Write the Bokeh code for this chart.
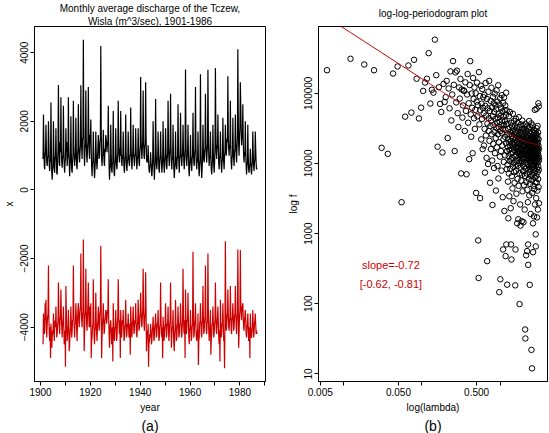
import numpy as np
from bokeh.plotting import figure
from bokeh.models import Range1d, FixedTicker, Title, Label
from bokeh.layouts import row
from bokeh.embed import file_html
from bokeh.resources import INLINE

# ---------------- data ----------------
START_YEAR = 1901
POINTS_PER_YEAR = 6          # bi-monthly readings of the monthly series
N_MONTHS = 1032              # length of the monthly record 1901-1986

# discharge (m^3/sec), six readings per year, 1901 ... 1986
discharge = [
    900, 2200, 1300, 700, 600, 1000,
    1100, 1900, 1200, 800, 700, 900,
    1000, 2000, 1400, 700, 550, 800,
    900, 2550, 1200, 500, 300, 600,
    700, 2000, 1100, 600, 500, 900,
    1000, 1800, 1000, 500, 450, 800,
    1200, 3060, 1500, 800, 700, 1400,
    1100, 2700, 1300, 800, 650, 900,
    1000, 2450, 1200, 700, 500, 800,
    900, 1800, 1100, 1400, 700, 900,      # 1910
    1000, 2700, 1300, 800, 400, 700,
    900, 2150, 1100, 600, 500, 800,
    1000, 2600, 1300, 1000, 700, 900,
    900, 2100, 1200, 700, 600, 1000,
    1200, 2500, 1400, 900, 800, 1100,
    1300, 3050, 1700, 1200, 900, 1500,
    1500, 4380, 2000, 1000, 700, 1200,
    1300, 2900, 1500, 1000, 800, 1200,
    1400, 3000, 1800, 1100, 900, 1600,
    1500, 2050, 1200, 700, 400, 800,      # 1920
    800, 1700, 1000, 600, 350, 600,
    900, 1700, 1100, 800, 600, 900,
    1200, 1600, 1300, 900, 1000, 1400,
    1500, 4195, 1800, 900, 700, 1000,
    1000, 1750, 1200, 800, 700, 1200,
    1100, 1600, 1500, 1300, 1100, 1400,
    1300, 2450, 1400, 700, 300, 600,
    700, 1900, 1100, 600, 500, 800,
    800, 2300, 1000, 500, 400, 700,
    900, 1800, 1000, 700, 600, 900,       # 1930
    1100, 2600, 1500, 1000, 800, 1200,
    1000, 2300, 1200, 800, 700, 1000,
    900, 1700, 1000, 600, 500, 800,
    1000, 2200, 1100, 700, 550, 850,
    900, 1700, 1000, 800, 700, 1000,
    1000, 2400, 1300, 800, 600, 900,
    1100, 1900, 1100, 900, 700, 1000,
    1000, 1800, 1200, 800, 600, 900,
    1000, 1800, 1100, 800, 700, 1100,
    1300, 3290, 1600, 1100, 900, 1200,    # 1940
    1400, 2900, 1500, 1000, 900, 1300,
    1300, 3140, 1600, 1000, 800, 1000,
    800, 1300, 900, 600, 500, 700,
    700, 1100, 800, 500, 400, 600,
    900, 2000, 1100, 700, 300, 600,
    800, 2650, 1300, 800, 600, 900,
    900, 1700, 1000, 600, 500, 800,
    1000, 1700, 1100, 800, 500, 700,
    900, 2000, 1100, 700, 500, 800,
    1000, 1800, 1200, 700, 600, 900,      # 1950
    1100, 2600, 1400, 900, 700, 1000,
    1200, 2800, 1300, 800, 600, 900,
    900, 1900, 1000, 600, 350, 600,
    800, 1700, 1000, 700, 600, 900,
    1000, 2500, 1200, 800, 500, 900,
    1000, 2250, 1300, 900, 700, 1000,
    1000, 1900, 1200, 800, 600, 900,
    1200, 3510, 1500, 900, 700, 1000,
    1000, 1900, 1100, 600, 400, 700,
    900, 1600, 1000, 700, 550, 900,       # 1960
    1000, 2250, 1200, 800, 700, 1000,
    1200, 3000, 1400, 800, 600, 900,
    800, 1700, 1000, 600, 400, 700,
    900, 3370, 1300, 700, 350, 600,
    900, 1900, 1200, 900, 800, 1100,
    1200, 2800, 1500, 1000, 800, 1100,
    1300, 3500, 1700, 1000, 700, 1000,
    900, 1700, 1000, 600, 450, 700,
    900, 1900, 1100, 700, 500, 800,
    1200, 3550, 1800, 1100, 900, 1300,    # 1970
    1200, 2200, 1300, 800, 600, 900,
    1000, 1700, 1100, 700, 500, 800,
    900, 2100, 1200, 800, 600, 1000,
    1100, 1900, 1300, 1000, 1200, 1500,
    1400, 3310, 1600, 1200, 1000, 1300,
    1200, 2600, 1300, 800, 600, 900,
    1000, 2100, 1200, 900, 700, 1100,
    1200, 2200, 1400, 1000, 800, 1200,
    1600, 4100, 2200, 1300, 1000, 1500,
    1800, 3140, 2500, 1800, 1300, 1600,   # 1980
    1500, 2500, 1400, 1000, 800, 1100,
    1000, 2000, 1100, 700, 450, 700,
    800, 1900, 1000, 600, 500, 700,
    700, 1200, 900, 550, 450, 700,
    800, 1700, 1100, 700, 550, 800,
    900, 1700, 1200, 800, 600, 650,
]

# second (red) series, same time base
shifted = [
    -4500, -3600, -3900, -4200, -4100, -3300,
    -3800, -3200, -4000, -4300, -3900, -3700,
    -3600, -2200, -3700, -4200, -4400, -4000,
    -4900, -3900, -4200, -4600, -4300, -4100,
    -4200, -3600, -4100, -4400, -4000, -3800,
    -4000, -3400, -3900, -4300, -4200, -3900,
    -3900, -2700, -3500, -4000, -4200, -3800,
    -3700, -2900, -3600, -4000, -4300, -3900,
    -3800, -3400, -4000, -4500, -4400, -4100,
    -5150, -2800, -3500, -4000, -4400, -4200,   # 1910
    -4100, -3500, -4000, -4700, -4500, -4200,
    -4000, -3400, -3900, -4300, -4100, -3800,
    -3800, -2200, -3600, -4000, -4300, -3900,
    -3900, -3300, -3700, -4100, -4400, -3800,
    -3500, -3300, -3700, -4000, -3800, -3500,
    -3400, -1850, -3400, -3800, -4000, -3600,
    -3600, -1444, -3300, -4700, -4200, -3700,
    -3500, -2300, -3500, -3900, -4100, -3700,
    -3300, -2700, -3500, -4000, -3900, -3400,
    -4000, -3300, -4900, -4400, -4300, -4000,   # 1920
    -3900, -2600, -3700, -4300, -4500, -4100,
    -4000, -3000, -3800, -4200, -4400, -4000,
    -3800, -3400, -3700, -4100, -3900, -3600,
    -3500, -1629, -3400, -4900, -4300, -3900,
    -3700, -3300, -3800, -4200, -4100, -3800,
    -3700, -3500, -3600, -3900, -3800, -3500,
    -3600, -2600, -3700, -4200, -4600, -4100,
    -3900, -3800, -4100, -4500, -4400, -4000,
    -5000, -3300, -3900, -4300, -4400, -4000,
    -4000, -3500, -4000, -4400, -4300, -3900,   # 1930
    -3700, -2600, -3500, -4000, -4200, -3800,
    -4900, -3500, -3900, -4300, -4100, -3800,
    -3900, -3500, -4000, -4400, -4300, -4000,
    -3900, -3200, -3900, -4300, -4200, -3900,
    -4000, -3600, -4000, -4300, -4200, -3900,
    -4800, -3400, -3800, -4200, -4300, -3900,
    -3800, -3400, -3900, -4200, -4100, -3800,
    -3900, -3300, -3800, -4200, -4300, -4000,
    -3800, -3200, -3700, -4100, -4000, -3700,
    -3600, -3000, -3500, -3900, -4000, -3700,   # 1940
    -3500, -2300, -3400, -3900, -4100, -3700,
    -3600, -2400, -3500, -4700, -4400, -4100,
    -4200, -3900, -5150, -4500, -4400, -4200,
    -4300, -3900, -4200, -4500, -4400, -4100,
    -4000, -3700, -4100, -4400, -4300, -4000,
    -3900, -3600, -4000, -4300, -4200, -3900,
    -3900, -3500, -4000, -4400, -4300, -4000,
    -3900, -2700, -3700, -4200, -4300, -4000,
    -4900, -3700, -4000, -4400, -4300, -4000,
    -3900, -3300, -3900, -4300, -4200, -3900,   # 1950
    -3900, -3400, -4000, -4400, -4200, -3900,
    -3800, -2700, -3700, -4600, -4300, -4000,
    -4000, -3500, -4100, -4500, -4700, -4200,
    -4000, -3200, -3900, -4400, -4300, -4000,
    -3900, -3400, -3900, -4300, -4200, -3900,
    -3900, -3300, -3800, -4200, -4300, -4000,
    -3800, -2300, -3600, -4100, -4200, -3800,
    -4900, -2900, -3700, -4200, -4100, -3800,
    -3800, -3000, -3800, -4300, -4500, -4100,
    -4000, -3500, -4000, -4400, -4300, -4000,   # 1960
    -3900, -1800, -3500, -4300, -4200, -3900,
    -3800, -3300, -3900, -4300, -4400, -4100,
    -4300, -3600, -5100, -4400, -4300, -3900,
    -3800, -3300, -3800, -4200, -4300, -3900,
    -3800, -2800, -3700, -4200, -4100, -3800,
    -3700, -2200, -3600, -4100, -4200, -3900,
    -3800, -1850, -3500, -4100, -4400, -4000,
    -4000, -3500, -4800, -4400, -4200, -3900,
    -3900, -3400, -3900, -4300, -4200, -3900,
    -3800, -2700, -3600, -4100, -4200, -3900,   # 1970
    -3700, -3400, -3900, -4300, -4500, -4100,
    -5000, -3200, -3900, -4300, -4200, -3900,
    -3900, -3300, -3900, -4400, -4300, -5200,
    -3900, -1493, -3500, -4100, -4000, -3700,
    -3600, -2900, -3600, -4000, -4100, -3800,
    -3700, -2800, -3600, -4100, -4200, -3800,
    -3700, -3300, -3700, -4100, -4000, -3700,
    -3600, -2800, -3500, -4000, -4200, -3800,
    -3600, -1737, -3400, -4600, -4200, -3700,
    -3500, -1750, -3200, -3600, -3800, -3400,   # 1980
    -3400, -3300, -3700, -4000, -4100, -3800,
    -3700, -3500, -3800, -4200, -4300, -4000,
    -3900, -3600, -4000, -4400, -4200, -4000,
    -4900, -3600, -4000, -4300, -4300, -4100,
    -4000, -3500, -3900, -4300, -4200, -3900,
    -3800, -3600, -3900, -4200, -4100, -4200,
]

# periodogram ordinates at the Fourier frequencies j = 1 ... 516
periodogram = [
    213000, 310000, 257000, 213000, 16700, 13700, 191000, 241000, 2800, 46400,
    249000, 53000, 300000, 161000, 43800, 62400, 108000, 142000, 161000, 373000,
    71300, 112000, 102000, 581000, 181000, 17300, 122000, 70500, 54100, 14300,
    136000, 75300,
    88000, 150000, 23000, 117000, 61000, 205000, 41000, 96000,
    287000, 132000, 15000, 198000, 74000, 210000, 52000, 33000,
    121000, 84000, 160000, 7200, 113000, 45000, 67000, 110000,
    108000, 29000, 143000, 56000, 7000, 96000, 188000, 38000,
    72000, 11500, 131000, 287000, 50000, 24000, 99000, 62000,
    14000, 165000, 83000, 44000, 121000, 31000, 58000, 100000,
    3800, 76000, 142000, 47000, 68000, 800, 233, 200000,
    36000, 91000, 3200, 57000, 128000, 22000, 71000, 43000,
    115000, 16000, 62000, 88000,
    52000, 18000, 95000, 31000, 7400, 66000, 140000, 25000, 48000, 12000,
    83000, 405, 37000, 61000, 9800, 105000, 29000, 44000, 150000, 21000,
    56000, 5300, 34000, 78000, 16000, 41000, 120000, 26000, 63000, 11000,
    2560, 47000, 89000, 19000, 35000, 72000, 8600, 54000, 28000, 99000,
    14000, 43000, 67000, 23000, 4100, 59000, 32000, 110000, 17000, 38000,
    76000, 9200, 45000, 26000, 130000, 6100, 51000, 33000, 20000, 146,
    69000, 39000, 12500, 85000, 223, 29000, 48000, 15000, 62000, 36000,
    7900, 94000, 27000, 41000, 18000, 55000, 3300, 31000, 594, 73000,
    22000, 46000, 10500, 87000, 35000, 2100, 58000, 24000, 40000, 13000,
    67000, 30000, 477, 49000, 19500, 102000, 700, 36000, 8300, 57000,
    15000, 187, 26000, 9600, 37000, 17000, 5500, 22000, 1650, 31000,
    12600, 7200, 47000, 20000, 3400, 15600, 26000, 10800, 54000, 18000,
    8400, 28000, 13800, 2300, 21000, 700, 38000, 11400, 427, 24600,
    16200, 6600, 33600, 12000, 19200, 4400, 28800, 14400, 51000, 9000,
    22800, 17400, 2900, 31200, 10200, 19800, 40200, 7500, 15600, 25800,
    5300, 18600, 34800, 12600, 21600, 183, 28200, 594, 9600, 17400,
    43200, 7800, 23400, 13200, 3700, 27000, 16200, 10800, 32400, 20400,
    1400, 14400, 24600, 6000, 37800, 16800, 9300, 22200, 12000, 1600,
    29400, 15000, 4800, 19200, 45600, 10200, 25200, 13800, 7200, 21000,
    99, 16800, 33000, 11400, 18000, 2600, 27600, 13200, 1300, 22800,
    15600, 8700, 36000, 12600, 19800, 5700, 26400, 10800, 16200, 1500,
    30600, 14400, 6900, 21600, 40800, 12000, 18000, 4000, 24000, 13800,
    9600, 28200, 16800, 7800, 21000, 1450, 34800, 11700, 15000, 25200,
    4900, 18600, 13200, 31200, 9000, 22200, 15600, 2200, 27000, 12000,
    17400, 6600, 43, 20400, 32, 14400, 36600, 10200, 23400, 16200,
    8400, 19800, 490, 13200, 28800, 5400, 16200, 11100, 23400, 7200,
    15000, 33600, 562, 12000, 18600, 4200, 25800, 9900, 17400, 13800,
    2800, 21600, 11400, 700, 358, 15600, 31200, 8100, 19200, 12600,
    6000, 24600, 14400, 9000, 40200, 16800, 3500, 20400, 10800, 27600,
    13200, 7500, 186, 18000, 10200, 22800, 5100, 15000, 33000, 12000,
    8400, 19800, 16200, 1900, 26400, 11400, 13800, 6600, 21600, 9600,
    17400, 37200, 22, 12600, 5800, 24000, 15000, 8700, 18600, 12,
    10800, 28200, 3800, 15600, 12000, 21000, 6900, 34800, 13800, 9600,
    18000, 1400, 543, 25200, 11400, 16200, 4800, 22200, 9000, 14400,
    30000, 7200, 12600, 19800, 1760, 10500, 27000, 15600, 4300, 18600,
    11400, 23400, 8400, 13800, 58000, 6300, 16800, 10200, 2600, 21000,
    13200, 7800, 28800, 15000, 5400, 18000, 10800, 976, 657, 24600,
    12000, 9300, 20400, 16200, 3200, 26400, 12600, 6600, 17400, 60000,
    31800, 14400, 5300, 21600, 11400, 1700, 18600, 8400, 25200, 13200,
    15600, 4100, 22800, 10200, 34200, 7500, 16800, 12000, 2200, 19800,
    13800, 27600, 6000, 15000, 9000, 72000, 18000, 10800, 4600, 22200,
    12600, 8100, 65000, 16200, 2700, 11400,
]

# fitted log-log regression (slope and its interval as printed on the chart)
FIT_SLOPE = -0.72
FIT_LOG10_SCALE = 4.487
SLOPE_CI = (-0.62, -0.81)

year_ticks = [1900, 1910, 1920, 1930, 1940, 1950, 1960, 1970, 1980, 1990]
year_labels = ["1900", "", "1920", "", "1940", "", "1960", "", "1980", ""]
x_ticks_a = [-4000, -2000, 0, 2000, 4000]
lam_ticks = [0.005, 0.01, 0.05, 0.1, 0.5, 1.0]
lam_labels = ["0.005", "", "0.050", "", "0.500", ""]
f_ticks = [10, 100, 1000, 10000, 100000]
f_labels = ["10", "100", "1000", "10000", "100000"]

# ---------------- derived ----------------
t = START_YEAR + np.arange(len(discharge)) / POINTS_PER_YEAR
lam = 2 * np.pi * np.arange(1, len(periodogram) + 1) / N_MONTHS
fit = 10 ** FIT_LOG10_SCALE * (2 * np.sin(lam / 2)) ** FIT_SLOPE

FONT = "Liberation Sans"
RED = "#CC0000"


def pad(lo, hi, frac=0.04):
    d = (hi - lo) * frac
    return lo - d, hi + d


def style(p):
    p.outline_line_color = "black"
    p.outline_line_width = 1
    p.outline_line_alpha = 1
    p.xgrid.visible = False
    p.ygrid.visible = False
    p.background_fill_color = "white"
    p.border_fill_color = "white"
    for ax in p.axis:
        ax.axis_line_color = "black"
        ax.major_tick_line_color = "black"
        ax.major_tick_out = 4
        ax.major_tick_in = 0
        ax.minor_tick_line_color = None
        ax.major_label_text_font = FONT
        ax.major_label_text_font_size = "10px"
        ax.major_label_text_color = "black"
        ax.major_label_standoff = 2
        ax.axis_label_text_font = FONT
        ax.axis_label_text_font_size = "10px"
        ax.axis_label_text_font_style = "normal"
        ax.axis_label_text_color = "black"
        ax.axis_label_standoff = 3
    p.yaxis.major_label_orientation = "vertical"


def title_style(ttl, size="10px"):
    ttl.text_font = FONT
    ttl.text_font_size = size
    ttl.text_font_style = "normal"
    ttl.text_color = "black"
    ttl.align = "center"


H = 433
TOP = 26
BOTTOM = 51

# ---------------- panel (a) ----------------
all_vals = discharge + shifted
xa0, xa1 = pad(float(t.min()), float(t.max()))
ya0, ya1 = pad(min(all_vals), max(all_vals))

pa = figure(width=281, height=H, output_backend="svg", toolbar_location=None,
            x_range=Range1d(xa0, xa1), y_range=Range1d(ya0, ya1),
            min_border_left=33, min_border_right=16, min_border_top=TOP,
            min_border_bottom=BOTTOM,
            title="Monthly average discharge of the Tczew,")
title_style(pa.title)
pa.title.standoff = 0
line2 = Title(text="Wisla (m^3/sec), 1901-1986", standoff=0)
title_style(line2)
pa.add_layout(line2, "above")

pa.line(t, discharge, line_color="black", line_width=1.2)
pa.line(t, shifted, line_color=RED, line_width=1.2)
style(pa)
pa.xaxis.ticker = FixedTicker(ticks=year_ticks)
pa.xaxis.major_label_overrides = dict(zip(year_ticks, year_labels))
pa.yaxis.ticker = FixedTicker(ticks=x_ticks_a)
pa.xaxis.axis_label = "year"
pa.yaxis.axis_label = "x"
cap_a = Title(text="(a)", standoff=0)
title_style(cap_a, "14px")
pa.add_layout(cap_a, "below")

# ---------------- panel (b) ----------------
lx0, lx1 = pad(np.log10(lam.min()), np.log10(lam.max()))
ly0, ly1 = pad(np.log10(min(periodogram)), np.log10(max(periodogram)))

pb = figure(width=267, height=H, output_backend="svg", toolbar_location=None,
            x_axis_type="log", y_axis_type="log",
            x_range=Range1d(10 ** lx0, 10 ** lx1), y_range=Range1d(10 ** ly0, 10 ** ly1),
            min_border_left=37, min_border_right=1, min_border_top=TOP,
            min_border_bottom=BOTTOM, title="log-log-periodogram plot")
title_style(pb.title)
pb.title.standoff = 0
spacer = Title(text=" ", standoff=0)
title_style(spacer, "6px")
pb.add_layout(spacer, "above")

pb.scatter(lam, periodogram, marker="circle", size=5.5, fill_color=None,
           line_color="black", line_width=1)
pb.line(lam, fit, line_color=RED, line_width=1)
style(pb)
pb.xaxis.ticker = FixedTicker(ticks=lam_ticks)
pb.xaxis.major_label_overrides = dict(zip(lam_ticks, lam_labels))
pb.yaxis.ticker = FixedTicker(ticks=f_ticks)
pb.yaxis.major_label_overrides = dict(zip(f_ticks, f_labels))
pb.xaxis.axis_label = "log(lambda)"
pb.yaxis.axis_label = "log f"

LABEL_X = 0.04
pb.add_layout(Label(x=LABEL_X, y=360, text="slope=%.2f" % FIT_SLOPE,
                    text_align="center", text_baseline="middle",
                    text_color=RED, text_font=FONT, text_font_size="11px"))
pb.add_layout(Label(x=LABEL_X, y=190, text="[%.2f, %.2f]" % SLOPE_CI,
                    text_align="center", text_baseline="middle",
                    text_color=RED, text_font=FONT, text_font_size="11px"))
cap_b = Title(text="(b)", standoff=0)
title_style(cap_b, "14px")
pb.add_layout(cap_b, "below")

layout = row(pa, pb)
open("out.html", "w").write(file_html(layout, INLINE))
